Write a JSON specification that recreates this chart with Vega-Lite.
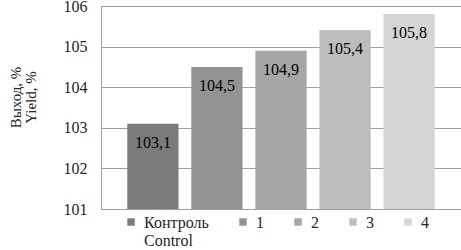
{
  "$schema": "https://vega.github.io/schema/vega-lite/v6.json",
  "width": 360,
  "height": 203,
  "autosize": {"type": "none"},
  "padding": {"left": 101, "top": 6, "right": 0, "bottom": 41},
  "background": "white",
  "config": {
    "view": {"stroke": null},
    "font": "Liberation Serif",
    "locale": {"number": {"decimal": ",", "thousands": " ", "grouping": [3], "currency": ["", ""]}}
  },
  "data": {
    "values": [
      {"series": "Контроль", "value": 103.1},
      {"series": "1", "value": 104.5},
      {"series": "2", "value": 104.9},
      {"series": "3", "value": 105.4},
      {"series": "4", "value": 105.8}
    ]
  },
  "encoding": {
    "x": {
      "field": "series",
      "type": "nominal",
      "sort": null,
      "axis": null,
      "scale": {"paddingInner": 0.2, "paddingOuter": 0.41}
    },
    "y": {
      "field": "value",
      "type": "quantitative",
      "scale": {"domain": [101, 106], "zero": false, "nice": false},
      "axis": {
        "values": [101, 102, 103, 104, 105, 106],
        "format": "d",
        "title": ["Выход, %", "Yield, %"],
        "titleFont": "Liberation Serif",
        "titleFontSize": 15,
        "titleFontWeight": "normal",
        "titleColor": "#262626",
        "titleAngle": -90,
        "titleX": -86,
        "titleY": 91,
        "titleAlign": "center",
        "titleBaseline": "middle",
        "titleLineHeight": 15,
        "labelFont": "Liberation Serif",
        "labelFontSize": 16,
        "labelColor": "#262626",
        "labelPadding": 14,
        "ticks": false,
        "domain": true,
        "domainColor": "#a0a0a0",
        "gridColor": "#a0a0a0",
        "grid": true
      }
    }
  },
  "layer": [
    {
      "mark": {"type": "bar", "clip": true},
      "encoding": {
        "color": {
          "field": "series",
          "type": "nominal",
          "sort": null,
          "scale": {"range": ["#7b7b7b", "#939393", "#a6a6a6", "#bdbdbd", "#d5d5d5"]},
          "legend": {
            "orient": "none",
            "legendX": 22,
            "legendY": 208,
            "direction": "horizontal",
            "columns": 5,
            "title": null,
            "padding": 0,
            "symbolType": "square",
            "symbolSize": 55,
            "symbolStrokeWidth": 0,
            "symbolOffset": 0,
            "labelFont": "Liberation Serif",
            "labelFontSize": 16,
            "labelColor": "#262626",
            "labelOffset": 5,
            "labelBaseline": "middle",
            "labelLineHeight": 18,
            "columnPadding": 26,
            "labelExpr": "datum.label == 'Контроль' ? ['Контроль', 'Control'] : [datum.label, ' ']",
            "encode": {
              "labels": {"update": {"dy": {"value": 1}}}
            }
          }
        }
      }
    },
    {
      "mark": {"type": "text", "baseline": "middle", "dy": 19, "fontSize": 16, "font": "Liberation Serif", "color": "#000000"},
      "encoding": {
        "text": {"field": "value", "type": "quantitative", "format": ".1f"}
      }
    }
  ]
}
